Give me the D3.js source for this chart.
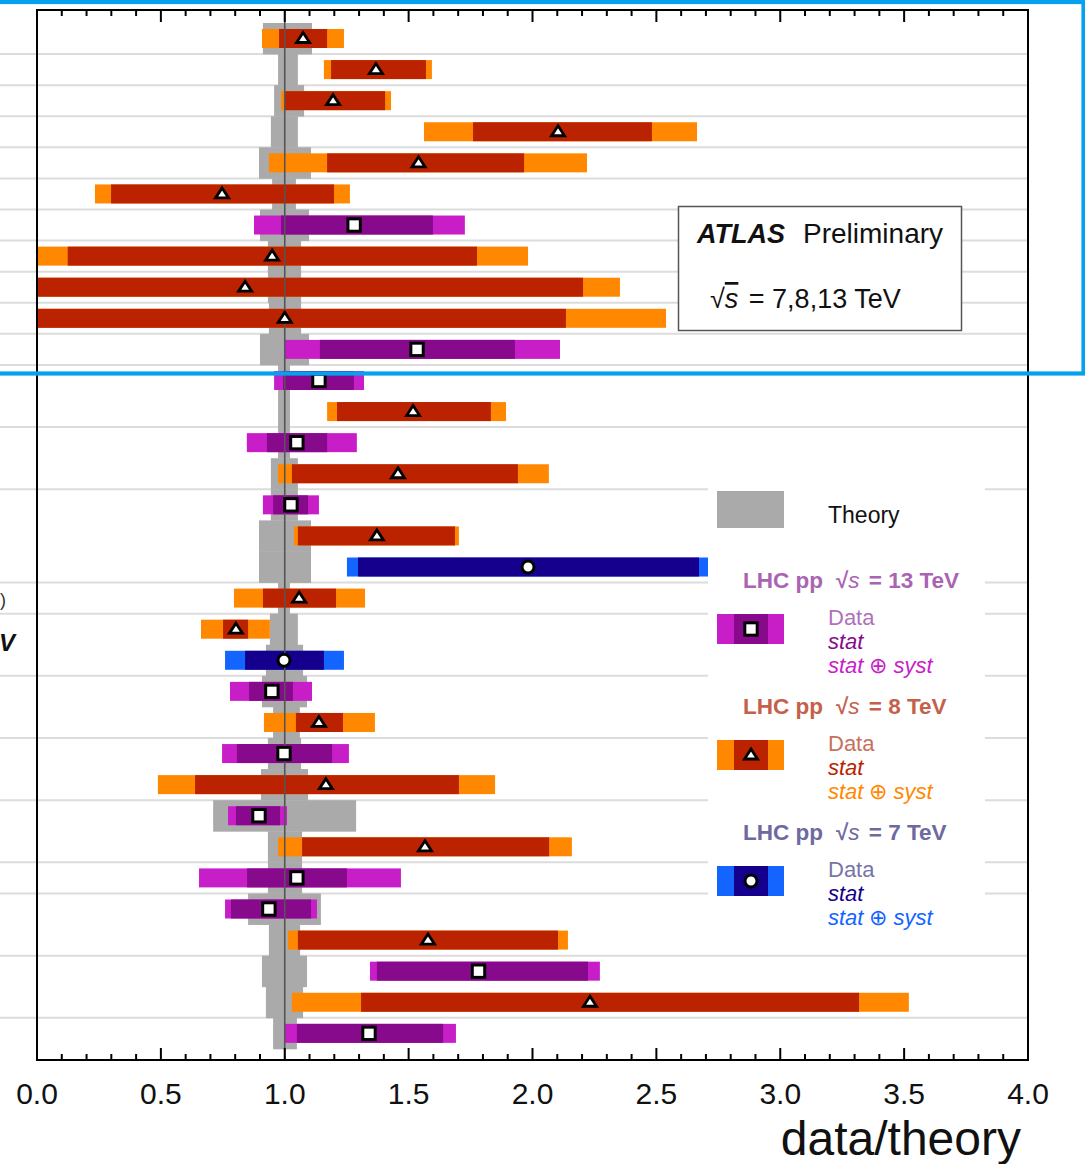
<!DOCTYPE html>
<html><head><meta charset="utf-8">
<script src="https://cdn.jsdelivr.net/npm/d3@7"></script>
<style>
html,body{margin:0;padding:0;background:#fff;overflow:hidden}
svg{display:block;font-family:"Liberation Sans",Arial,sans-serif}
</style></head><body>
<svg id="chart" width="1085" height="1164"></svg>
<script>
// Measurements, listed from the top row to the bottom row
const energies = [8,8,8,8,8,8,13,8,8,8,13,13,8,13,8,13,8,7,8,8,7,13,8,13,8,13,8,13,13,8,13,8,13];
const central  = [1.074,1.368,1.195,2.103,1.540,0.747,1.280,0.949,0.840,1.000,1.534,1.138,1.518,1.049,1.457,1.025,1.372,1.982,1.058,0.803,0.997,0.948,1.138,0.997,1.166,0.896,1.566,1.049,0.936,1.578,1.782,2.232,1.340];
const statLo   = [0.977,1.187,0.997,1.760,1.171,0.299,0.985,0.124,-0.53,-0.13,1.142,0.993,1.211,0.928,1.029,0.953,1.053,1.296,0.912,0.751,0.840,0.856,1.045,0.807,0.638,0.803,1.070,0.848,0.783,1.053,1.372,1.308,1.049];
const statHi   = [1.171,1.570,1.405,2.482,1.966,1.199,1.598,1.776,2.204,2.135,1.929,1.279,1.832,1.171,1.941,1.094,1.687,2.672,1.207,0.852,1.158,1.033,1.235,1.191,1.703,0.981,2.067,1.251,1.106,2.103,2.224,3.318,1.639];
const totalLo  = [0.908,1.158,0.985,1.562,0.936,0.234,0.876,-0.08,-0.68,-0.54,1.001,0.957,1.171,0.847,0.973,0.912,1.037,1.251,0.795,0.662,0.759,0.779,0.916,0.747,0.488,0.771,0.973,0.654,0.759,1.013,1.344,1.029,1.001];
const totalHi  = [1.239,1.594,1.429,2.664,2.220,1.263,1.727,1.982,2.353,2.539,2.111,1.320,1.893,1.291,2.066,1.138,1.703,2.712,1.324,0.940,1.239,1.110,1.364,1.259,1.849,1.009,2.159,1.469,1.130,2.143,2.272,3.519,1.691];
// Theory uncertainty band per row
const theoryLo = [0.912,0.973,0.957,0.944,0.896,0.949,0.900,0.932,0.932,0.936,0.900,0.973,0.973,0.973,0.944,0.944,0.896,0.896,0.973,0.940,0.924,0.908,0.953,0.932,0.904,0.711,0.932,0.932,0.852,0.936,0.908,0.924,0.953];
const theoryHi = [1.110,1.053,1.078,1.053,1.106,1.045,1.098,1.066,1.066,1.066,1.098,1.021,1.021,1.021,1.053,1.053,1.106,1.106,1.021,1.053,1.074,1.090,1.061,1.066,1.094,1.288,1.070,1.070,1.146,1.062,1.090,1.074,1.049];
// Rows followed by a separator line
const separatorsAfter = [0,1,2,3,4,5,6,7,8,9,10,12,14,17,18,20,22,24,26,27,29,31];
const xTickLabels = ["0.0","0.5","1.0","1.5","2.0","2.5","3.0","3.5","4.0"];
const legendEnergies = [13,8,7];

const palette = {
  13:{syst:"#c81ec8", stat:"#880a8c", head:"#a964b3", data:"#b072ba", shape:"square"},
  8: {syst:"#ff8800", stat:"#bb2200", head:"#c4614b", data:"#c8705c", shape:"triangle"},
  7: {syst:"#1464ff", stat:"#14008c", head:"#6e6aa0", data:"#7774a8", shape:"circle"}
};

const svg = d3.select("#chart");
const L = 37, R = 1028, T = 10, B = 1060;
const x = d3.scaleLinear().domain([0,4]).range([L,R]);
const rows = d3.range(central.length);
const y = d3.scaleBand().domain(rows).range([22.95,1048.9]).paddingInner(0);
const barH = 19;

svg.append("clipPath").attr("id","plotclip")
  .append("rect").attr("x",L).attr("y",T).attr("width",R-L).attr("height",B-T);

// separator lines (extend into the label area on the left)
svg.append("g").selectAll("line").data(separatorsAfter).join("line")
  .attr("x1",-5).attr("x2",R)
  .attr("y1",d=>y(d)+y.step()).attr("y2",d=>y(d)+y.step())
  .attr("stroke","#dcdcdc").attr("stroke-width",2);

const plot = svg.append("g").attr("clip-path","url(#plotclip)");

// theory band
plot.append("g").selectAll("rect").data(rows).join("rect")
  .attr("x",i=>x(theoryLo[i])).attr("width",i=>x(theoryHi[i])-x(theoryLo[i]))
  .attr("y",i=>y(i)).attr("height",y.bandwidth()+0.4)
  .attr("fill","#aaaaaa");

// total uncertainty bars
plot.append("g").selectAll("rect").data(rows).join("rect")
  .attr("x",i=>x(totalLo[i])).attr("width",i=>x(totalHi[i])-x(totalLo[i]))
  .attr("y",i=>y(i)+y.bandwidth()/2-barH/2).attr("height",barH)
  .attr("fill",i=>palette[energies[i]].syst);

// statistical uncertainty bars
plot.append("g").selectAll("rect").data(rows).join("rect")
  .attr("x",i=>x(statLo[i])).attr("width",i=>x(statHi[i])-x(statLo[i]))
  .attr("y",i=>y(i)+y.bandwidth()/2-barH/2).attr("height",barH)
  .attr("fill",i=>palette[energies[i]].stat);

// reference line at data/theory = 1
svg.append("line").attr("x1",x(1)).attr("x2",x(1)).attr("y1",T).attr("y2",B)
  .attr("stroke","#555").attr("stroke-width",1.6);

function drawMarker(g, shape){
  if(shape==="triangle"){
    g.append("path").attr("d","M0,-6L6.5,4L-6.5,4Z")
      .attr("fill","#fff").attr("stroke","#000").attr("stroke-width",2.8).attr("stroke-linejoin","miter");
  } else if(shape==="square"){
    g.append("rect").attr("x",-6.2).attr("y",-6.2).attr("width",12.4).attr("height",12.4)
      .attr("fill","#fff").attr("stroke","#000").attr("stroke-width",3);
  } else {
    g.append("circle").attr("r",6).attr("fill","#fff").attr("stroke","#000").attr("stroke-width",3);
  }
}

const markers = svg.append("g");
rows.forEach(i=>{
  const g = markers.append("g").attr("transform",`translate(${x(central[i])},${y(i)+y.bandwidth()/2})`);
  drawMarker(g, palette[energies[i]].shape);
});

// frame
svg.append("rect").attr("x",L).attr("y",T).attr("width",R-L).attr("height",B-T)
  .attr("fill","none").attr("stroke","#000").attr("stroke-width",2);

// ticks on top and bottom
const minor = d3.range(0,40).map(d=>d/10).filter(d=>d>0);
const tk = svg.append("g").attr("stroke","#000").attr("stroke-width",2);
minor.forEach(v=>{
  const major = Math.abs(v*2-Math.round(v*2))<1e-6;
  const len = major?12:6;
  tk.append("line").attr("x1",x(v)).attr("x2",x(v)).attr("y1",T).attr("y2",T+len);
  tk.append("line").attr("x1",x(v)).attr("x2",x(v)).attr("y1",B).attr("y2",B-len);
});

// x tick labels
svg.append("g").selectAll("text").data(xTickLabels).join("text")
  .attr("x",d=>x(+d)).attr("y",1104).attr("text-anchor","middle")
  .attr("font-size",30).attr("fill","#111").text(d=>d);

svg.append("text").attr("x",1021).attr("y",1155).attr("text-anchor","end")
  .attr("font-size",48).attr("fill","#111").text("data/theory");

// row label fragments at the left margin
svg.append("text").attr("x",0).attr("y",606)
  .attr("font-size",18).attr("fill","#333").text(")");
svg.append("text").attr("x",-1).attr("y",651)
  .attr("font-size",24).attr("font-weight","bold").attr("font-style","italic").attr("fill","#111").text("V");

// ATLAS label box
svg.append("rect").attr("x",678.5).attr("y",206.5).attr("width",283).attr("height",124)
  .attr("fill","#fff").attr("stroke","#555").attr("stroke-width",1.5);
const atl = svg.append("text").attr("x",697).attr("y",243).attr("font-size",27).attr("fill","#111");
atl.append("tspan").attr("font-weight","bold").attr("font-style","italic").text("ATLAS");
atl.append("tspan").attr("dx",18).attr("font-size",28).text("Preliminary");
const rs = svg.append("text").attr("x",710).attr("y",308).attr("font-size",27).attr("fill","#111");
rs.append("tspan").text("√");
rs.append("tspan").attr("font-style","italic").attr("text-decoration","overline").text("s");
rs.append("tspan").attr("dx",3).text(" = 7,8,13 TeV");

// legend
const lg = svg.append("g");
lg.append("rect").attr("x",708).attr("y",484).attr("width",277).attr("height",452).attr("fill","#fff");
lg.append("rect").attr("x",717).attr("y",491).attr("width",67).attr("height",37).attr("fill","#aaaaaa");
lg.append("text").attr("x",828).attr("y",523).attr("font-size",23).attr("fill","#111").text("Theory");

legendEnergies.forEach((e,k)=>{
  const p = palette[e];
  const top = 588 + k*126;
  const h = lg.append("text").attr("x",743).attr("y",top).attr("font-size",22.5)
    .attr("font-weight","bold").attr("fill",p.head);
  h.append("tspan").text("LHC pp");
  h.append("tspan").attr("dx",13).text("√");
  h.append("tspan").attr("font-style","italic").attr("font-weight","normal").text("s");
  h.append("tspan").attr("dx",3).text(` = ${e} TeV`);
  const sy = top + 26;
  lg.append("rect").attr("x",717).attr("y",sy).attr("width",67).attr("height",30).attr("fill",p.syst);
  lg.append("rect").attr("x",734).attr("y",sy).attr("width",34).attr("height",30).attr("fill",p.stat);
  drawMarker(lg.append("g").attr("transform",`translate(751,${sy+15})`), p.shape);
  lg.append("text").attr("x",828).attr("y",top+37).attr("font-size",22).attr("fill",p.data).text("Data");
  lg.append("text").attr("x",828).attr("y",top+61).attr("font-size",22).attr("font-style","italic").attr("fill",p.stat).text("stat");
  const st = lg.append("text").attr("x",828).attr("y",top+85).attr("font-size",22).attr("fill",p.syst);
  st.append("tspan").attr("font-style","italic").text("stat");
  st.append("tspan").attr("dx",6).text("⊕");
  st.append("tspan").attr("dx",6).attr("font-style","italic").text("syst");
});

// highlight frame around the upper block
svg.append("rect").attr("x",-10).attr("y",2).attr("width",1093.5).attr("height",371.5)
  .attr("fill","none").attr("stroke","#06a0f0").attr("stroke-width",4.2);
</script>
</body></html>
